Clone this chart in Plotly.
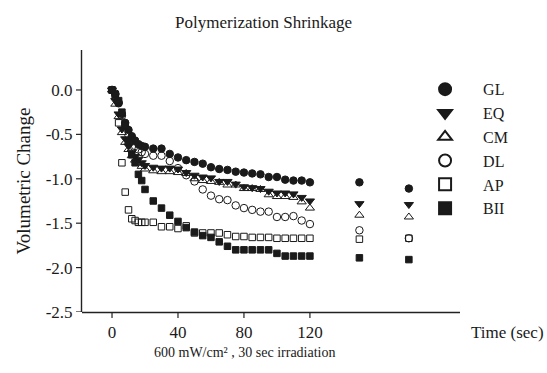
import plotly.graph_objects as go

time = [0, 2, 4, 6, 8, 10, 12, 14, 16, 18, 20, 25, 30, 35, 40, 45, 50, 55, 60, 65, 70,
        75, 80, 85, 90, 95, 100, 105, 110, 115, 120, 150, 180]

GL = [0, -0.05, -0.15, -0.27, -0.37, -0.45, -0.52, -0.57, -0.61, -0.63, -0.64, -0.66, -0.66,
      -0.72, -0.76, -0.79, -0.81, -0.83, -0.87, -0.89, -0.90, -0.92, -0.93, -0.94, -0.95,
      -0.98, -0.98, -1.01, -1.02, -1.02, -1.04, -1.04, -1.11]
EQ = [0, -0.12, -0.27, -0.44, -0.55, -0.63, -0.70, -0.75, -0.78, -0.82, -0.85, -0.87, -0.88,
      -0.88, -0.89, -0.93, -0.96, -0.98, -0.99, -1.03, -1.03, -1.06, -1.09, -1.10, -1.11,
      -1.14, -1.16, -1.16, -1.17, -1.21, -1.25, -1.28, -1.29]
CM = [0, -0.16, -0.30, -0.48, -0.59, -0.67, -0.74, -0.79, -0.82, -0.86, -0.89, -0.91, -0.92,
      -0.92, -0.93, -0.94, -1.00, -1.02, -1.03, -1.04, -1.07, -1.07, -1.11, -1.11, -1.12,
      -1.18, -1.20, -1.20, -1.21, -1.26, -1.33, -1.41, -1.43]
DL = [0, -0.04, -0.14, -0.29, -0.41, -0.51, -0.58, -0.63, -0.67, -0.70, -0.72, -0.74, -0.74,
      -0.80, -0.88, -0.96, -1.03, -1.12, -1.19, -1.23, -1.24, -1.30, -1.33, -1.35, -1.37,
      -1.37, -1.43, -1.43, -1.42, -1.47, -1.51, -1.58, -1.67]
AP = [0, -0.07, -0.37, -0.82, -1.15, -1.35, -1.45, -1.47, -1.49, -1.49, -1.49, -1.49, -1.54,
      -1.54, -1.56, -1.53, -1.61, -1.61, -1.61, -1.61, -1.63, -1.65, -1.65, -1.66, -1.66,
      -1.66, -1.67, -1.67, -1.67, -1.67, -1.67, -1.68, -1.67]
BII = [0, -0.05, -0.12, -0.25, -0.40, -0.58, -0.73, -0.82, -0.95, -1.02, -1.12, -1.25, -1.33,
       -1.41, -1.48, -1.55, -1.60, -1.64, -1.66, -1.71, -1.76, -1.80, -1.80, -1.80, -1.80,
       -1.80, -1.84, -1.87, -1.87, -1.87, -1.87, -1.89, -1.91]

series_names = ["GL", "EQ", "CM", "DL", "AP", "BII"]
series_values = [GL, EQ, CM, DL, AP, BII]
symbols = ["circle", "triangle-down", "triangle-up-open", "circle-open", "square-open", "square"]
sizes = [7.5, 8, 8, 7.5, 6.5, 6.5]

x_tickvals = [0, 40, 80, 120]
y_tickvals = [0, -0.5, -1.0, -1.5, -2.0, -2.5]
y_ticktext = ["0.0", "-0.5", "-1.0", "-1.5", "-2.0", "-2.5"]

FONT = "Liberation Serif, Times New Roman, serif"
INK = "#1a1a1a"
AXCOL = "#222222"

fig = go.Figure()
for name, vals, sym, sz in zip(series_names, series_values, symbols, sizes):
    fig.add_trace(go.Scatter(
        x=time, y=vals, mode="markers", name=name,
        marker=dict(symbol=sym, size=sz, color=INK, line=dict(color=INK, width=1)),
    ))

axis_common = dict(showgrid=False, zeroline=False, showline=False,
                   ticks="outside", ticklen=5, tickwidth=1, tickcolor="rgba(0,0,0,0)",
                   tickfont=dict(family=FONT, size=17, color=INK))

# axis lines and tick marks as thin filled rectangles (non-degenerate boxes),
# positioned through the axis scales
NOLINE = dict(width=0)
shapes = [
    dict(type="rect", xref="paper", yref="paper", ysizemode="pixel", yanchor=0,
         x0=0, x1=1, y0=-1.2, y1=0.2, fillcolor=AXCOL, line=NOLINE, layer="above"),
    dict(type="rect", xref="paper", yref="paper", xsizemode="pixel", xanchor=0,
         x0=-1.2, x1=0.2, y0=0, y1=1, fillcolor=AXCOL, line=NOLINE, layer="above"),
]
for xv in x_tickvals:
    shapes.append(dict(type="rect", xref="x", yref="paper",
                       xsizemode="pixel", xanchor=xv, x0=-0.6, x1=0.6,
                       ysizemode="pixel", yanchor=0, y0=-6, y1=0,
                       fillcolor=AXCOL, line=NOLINE, layer="above"))
for yv in y_tickvals:
    shapes.append(dict(type="rect", xref="paper", yref="y",
                       xsizemode="pixel", xanchor=0, x0=-6, x1=0,
                       ysizemode="pixel", yanchor=yv, y0=-0.6, y1=0.6,
                       fillcolor=AXCOL, line=NOLINE, layer="above"))

fig.update_layout(
    width=547, height=373,
    paper_bgcolor="white", plot_bgcolor="white",
    margin=dict(l=82, r=87, t=50, b=61),
    font=dict(family=FONT, color=INK, size=17),
    title=dict(text="Polymerization Shrinkage", x=0.482, xanchor="center",
               y=0.94, yanchor="middle", font=dict(family=FONT, size=17, color=INK)),
    showlegend=True,
    legend=dict(x=0.860, y=0.915, xanchor="left", yanchor="top",
                font=dict(family=FONT, size=16, color=INK),
                itemsizing="constant", itemwidth=66, bgcolor="rgba(0,0,0,0)"),
    xaxis=dict(range=[-18.2, 211], tickvals=x_tickvals,
               ticktext=[str(v) for v in x_tickvals], **axis_common),
    yaxis=dict(range=[-2.5, 0.45], tickvals=y_tickvals, ticktext=y_ticktext,
               title=dict(text="Volumetric Change",
                          font=dict(family=FONT, size=19, color=INK), standoff=10),
               **axis_common),
    shapes=shapes,
    annotations=[
        dict(text="Time (sec)", xref="paper", yref="paper",
             x=1.025, y=-0.0795, xanchor="left", yanchor="middle",
             showarrow=False, font=dict(family=FONT, size=17, color=INK)),
        dict(text="600 mW/cm\u00b2 , 30 sec irradiation", xref="paper", yref="paper",
             x=0.431, y=-0.153, xanchor="center", yanchor="middle",
             showarrow=False, font=dict(family=FONT, size=14, color=INK)),
    ],
)

fig.write_html("out.html")
